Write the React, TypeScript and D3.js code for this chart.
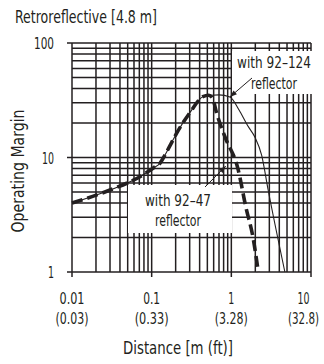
import * as d3 from 'd3';
import { useEffect, useRef } from 'react';

// Distance [m] and operating margin
const thinX = [0.01, 0.03, 0.0713, 0.105, 0.127, 0.15, 0.178, 0.206, 0.3, 0.44, 0.56, 0.7, 0.96, 1.25, 1.6, 1.98, 2.4, 2.9, 4.7];
const thinY = [4.0, 5.2, 6.8, 8.1, 8.9, 10.8, 13.5, 16.3, 24.5, 34, 35, 35.2, 33.8, 26, 19, 15, 10.5, 5.2, 1.0];

const thickX = [0.01, 0.03, 0.0713, 0.105, 0.127, 0.15, 0.178, 0.206, 0.3, 0.44, 0.52, 0.58, 0.655, 0.83, 1.22, 1.52, 1.88, 2.18];
const thickY = [4.0, 5.2, 6.8, 8.1, 8.9, 10.8, 13.5, 16.3, 24.5, 34, 35, 33, 24.3, 15.2, 7.8, 3.7, 1.97, 1.0];

const xTicks = [0.01, 0.1, 1, 10];
const xTickLabels = ['0.01', '0.1', '1', '10'];
const xTickFeet = ['(0.03)', '(0.33)', '(3.28)', '(32.8)'];
const yTicks = [1, 10, 100];
const yTickLabels = ['1', '10', '100'];

const FONT = "'DejaVu Sans Condensed', 'DejaVu Sans', sans-serif";
const INK = '#231f20';

// the original face is very condensed, so texts are squeezed to its widths
const TEXT_W = {
    'Retroreflective [4.8 m]': 142,
    'Distance [m (ft)]': 110,
    'Operating Margin': 123,
    'with 92–124': 74,
    'with 92–47': 66,
    reflector: 46,
    '0.01': 25, '0.1': 17, '1': 6, '10': 12, '100': 20,
    '(0.03)': 33, '(0.33)': 34, '(3.28)': 33, '(32.8)': 31,
};

const App = () => {
    const ref = useRef(null);

    useEffect(() => {
        const svg = d3.select(ref.current);
        svg.selectAll('*').remove();

        const left = 72, right = 311, top = 43, bottom = 272;

        const x = d3.scaleLog().domain([0.01, 10]).range([left, right]);
        const y = d3.scaleLog().domain([1, 100]).range([bottom, top]);

        const g = svg.append('g');

        // log grid: 1..9 in every decade
        const gridX = [];
        const gridY = [];
        [0.01, 0.1, 1].forEach((d) => { for (let k = 1; k <= 9; k++) gridX.push(d * k); });
        gridX.push(10);
        [1, 10].forEach((d) => { for (let k = 1; k <= 9; k++) gridY.push(d * k); });
        gridY.push(100);

        g.selectAll('.gx').data(gridX).enter().append('line')
            .attr('x1', (d) => x(d)).attr('x2', (d) => x(d))
            .attr('y1', top).attr('y2', bottom)
            .attr('stroke', INK).attr('stroke-width', 1.5);

        g.selectAll('.gy').data(gridY).enter().append('line')
            .attr('x1', left).attr('x2', right)
            .attr('y1', (d) => y(d)).attr('y2', (d) => y(d))
            .attr('stroke', INK).attr('stroke-width', 1.5);

        // ticks sticking out of the frame
        g.selectAll('.ty').data(yTicks).enter().append('line')
            .attr('x1', left - 5).attr('x2', left)
            .attr('y1', (d) => y(d)).attr('y2', (d) => y(d))
            .attr('stroke', INK).attr('stroke-width', 1.5);
        g.selectAll('.tx').data(xTicks).enter().append('line')
            .attr('x1', (d) => x(d)).attr('x2', (d) => x(d))
            .attr('y1', bottom).attr('y2', bottom + 5)
            .attr('stroke', INK).attr('stroke-width', 1.5);

        // label boxes hide the grid
        g.append('rect').attr('x', 232).attr('y', 51).attr('width', 80).attr('height', 43).attr('fill', '#fff');
        g.append('rect').attr('x', 128).attr('y', 185).attr('width', 104).attr('height', 48).attr('fill', '#fff');

        const line = d3.line()
            .x((d) => x(d[0]))
            .y((d) => y(d[1]))
            .curve(d3.curveMonotoneX);

        g.append('path')
            .datum(thinX.map((v, i) => [v, thinY[i]]))
            .attr('d', line)
            .attr('fill', 'none')
            .attr('stroke', INK)
            .attr('stroke-width', 1.1);

        g.append('path')
            .datum(thickX.map((v, i) => [v, thickY[i]]))
            .attr('d', line)
            .attr('fill', 'none')
            .attr('stroke', INK)
            .attr('stroke-width', 3.6)
            .attr('stroke-dasharray', '11 5');

        // annotation arrows
        const arrow = (x1, y1, x2, y2) => {
            g.append('line')
                .attr('x1', x1).attr('y1', y1).attr('x2', x2).attr('y2', y2)
                .attr('stroke', INK).attr('stroke-width', 1);
            const a = Math.atan2(y2 - y1, x2 - x1);
            const len = 7, w = 2.6;
            const bx = x2 - len * Math.cos(a), by = y2 - len * Math.sin(a);
            g.append('path')
                .attr('d', `M${x2},${y2}L${bx - w * Math.sin(a)},${by + w * Math.cos(a)}L${bx + w * Math.sin(a)},${by - w * Math.cos(a)}Z`)
                .attr('fill', INK);
        };
        arrow(252, 78, x(0.96), y(33.8));
        arrow(205, 187, x(0.85), y(8.4));

        const txt = (tx, ty, s, size, anchor = 'middle') => g.append('text')
            .attr('x', tx).attr('y', ty)
            .attr('text-anchor', anchor)
            .attr('textLength', TEXT_W[s])
            .attr('lengthAdjust', 'spacingAndGlyphs')
            .style('font-family', FONT)
            .style('font-size', `${size}px`)
            .attr('fill', INK)
            .text(s);

        txt(274, 68, 'with 92–124', 16);
        txt(274, 89, 'reflector', 16);
        txt(178, 206, 'with 92–47', 16);
        txt(178, 226, 'reflector', 16);

        // tick labels
        yTicks.forEach((d, i) => txt(54, y(d) + 6, yTickLabels[i], 16, 'end'));
        xTicks.forEach((d, i) => {
            const cx = Math.min(x(d), 319 - TEXT_W[xTickFeet[i]] / 2);
            txt(cx, 304, xTickLabels[i], 16);
            txt(cx, 324, xTickFeet[i], 16);
        });

        txt(15, 23, 'Retroreflective [4.8 m]', 17, 'start');
        txt(178, 354, 'Distance [m (ft)]', 17);
        g.append('text')
            .attr('transform', 'translate(24,171) rotate(-90)')
            .attr('text-anchor', 'middle')
            .attr('textLength', TEXT_W['Operating Margin'])
            .attr('lengthAdjust', 'spacingAndGlyphs')
            .style('font-family', FONT)
            .style('font-size', '17px')
            .attr('fill', INK)
            .text('Operating Margin');
    }, []);

    return (
        <svg ref={ref} width={324} height={364}
            style={{ position: 'absolute', left: 0, top: 0, background: '#fff' }} />
    );
};

export default App;
